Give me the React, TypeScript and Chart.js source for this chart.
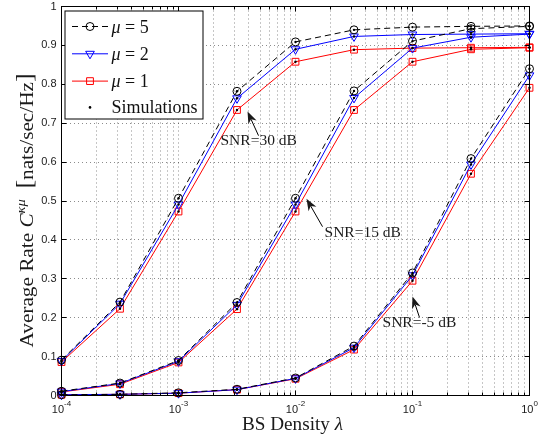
import React, { useEffect, useRef } from 'react';
import { Chart, registerables } from 'chart.js';

Chart.register(...registerables);

// ---------- data ----------
const densities = [1e-4, 3.162e-4, 1e-3, 3.162e-3, 1e-2, 3.162e-2, 1e-1, 3.162e-1, 1];

const snr30Mu5 = [0.091, 0.240, 0.507, 0.782, 0.909, 0.940, 0.947, 0.949, 0.950];
const snr30Mu2 = [0.089, 0.236, 0.491, 0.764, 0.890, 0.923, 0.928, 0.929, 0.930];
const snr30Mu1 = [0.086, 0.223, 0.473, 0.734, 0.858, 0.889, 0.893, 0.894, 0.895];

const snr15Mu5 = [0.011, 0.032, 0.090, 0.239, 0.507, 0.783, 0.911, 0.943, 0.949];
const snr15Mu2 = [0.010, 0.031, 0.088, 0.233, 0.491, 0.765, 0.893, 0.921, 0.929];
const snr15Mu1 = [0.009, 0.029, 0.085, 0.222, 0.473, 0.734, 0.858, 0.890, 0.894];

const snrM5Mu5 = [0.002, 0.003, 0.007, 0.016, 0.045, 0.127, 0.315, 0.609, 0.840];
const snrM5Mu2 = [0.002, 0.003, 0.006, 0.015, 0.044, 0.123, 0.309, 0.594, 0.823];
const snrM5Mu1 = [0.002, 0.003, 0.006, 0.015, 0.043, 0.118, 0.295, 0.570, 0.791];

const mu5Series = [snr30Mu5, snr15Mu5, snrM5Mu5];
const mu2Series = [snr30Mu2, snr15Mu2, snrM5Mu2];
const mu1Series = [snr30Mu1, snr15Mu1, snrM5Mu1];

const yTickValues = [0, 0.1, 0.2, 0.3, 0.4, 0.5, 0.6, 0.7, 0.8, 0.9, 1];
const yTickLabels = ['0', '0.1', '0.2', '0.3', '0.4', '0.5', '0.6', '0.7', '0.8', '0.9', '1'];
const xDecades = [1e-4, 1e-3, 1e-2, 1e-1, 1];
const xDecadeExponents = ['-4', '-3', '-2', '-1', '0'];
const legendMuValues = ['5', '2', '1'];
const simulationLabel = 'Simulations';

// annotations in data coordinates: text position (left, baseline), arrow tail -> tip
const annotationTexts = ['SNR=30 dB', 'SNR=15 dB', 'SNR=-5 dB'];
const annotationTextX = [10 ** -2.641, 10 ** -1.752, 10 ** -1.256];
const annotationTextY = [0.644, 0.407, 0.1756];
const arrowTailX = [10 ** -2.316, 10 ** -1.769, 10 ** -0.94];
const arrowTailY = [0.668, 0.434, 0.2005];
const arrowTipX = [10 ** -2.41, 10 ** -1.906, 10 ** -1.0];
const arrowTipY = [0.73, 0.506, 0.2545];

// grid positions for the log axis (1..9 per decade)
const xGridValues: number[] = [];
for (let e = -4; e < 0; e++) {
  for (let s = 1; s <= 9; s++) xGridValues.push(s * 10 ** e);
}
xGridValues.push(1);

// ---------- helpers ----------
const SERIF = '"Liberation Serif", "Times New Roman", serif';
const SANS = '"Liberation Sans", Arial, sans-serif';

type Piece = { t: string; font: string; dy?: number };

function drawPieces(ctx: CanvasRenderingContext2D, pieces: Piece[], x: number, y: number, align: 'left' | 'center', targetWidth?: number) {
  let total = 0;
  const widths = pieces.map((p) => {
    ctx.font = p.font;
    const w = ctx.measureText(p.t).width;
    total += w;
    return w;
  });
  const sx = targetWidth ? targetWidth / total : 1;
  const start = align === 'center' ? x - (total * sx) / 2 : x;
  ctx.save();
  ctx.translate(start, y);
  ctx.scale(sx, 1);
  ctx.textAlign = 'left';
  ctx.textBaseline = 'alphabetic';
  let cx = 0;
  pieces.forEach((p, i) => {
    ctx.font = p.font;
    ctx.fillText(p.t, cx, p.dy || 0);
    cx += widths[i];
  });
  ctx.restore();
}

function drawArrow(ctx: CanvasRenderingContext2D, x1: number, y1: number, x2: number, y2: number) {
  const ang = Math.atan2(y2 - y1, x2 - x1);
  const c = Math.cos(ang), s = Math.sin(ang);
  const headLen = 12, halfW = 4.5, notch = 0.7;
  ctx.beginPath();
  ctx.moveTo(x1, y1);
  ctx.lineTo(x2 - c * headLen * notch, y2 - s * headLen * notch);
  ctx.stroke();
  ctx.beginPath();
  ctx.moveTo(x2, y2);
  ctx.lineTo(x2 - c * headLen - s * halfW, y2 - s * headLen + c * halfW);
  ctx.lineTo(x2 - c * headLen * notch, y2 - s * headLen * notch);
  ctx.lineTo(x2 - c * headLen + s * halfW, y2 - s * headLen - c * halfW);
  ctx.closePath();
  ctx.fill();
}

function marker(ctx: CanvasRenderingContext2D, kind: string, x: number, y: number, color: string) {
  ctx.save();
  ctx.setLineDash([]);
  ctx.strokeStyle = color;
  ctx.lineWidth = 1;
  ctx.beginPath();
  if (kind === 'circle') {
    ctx.arc(x, y, 4, 0, Math.PI * 2);
  } else if (kind === 'triangle') {
    const r = 5;
    let rad = Math.PI;
    ctx.moveTo(x + Math.sin(rad) * r, y - Math.cos(rad) * r);
    rad += (2 * Math.PI) / 3;
    ctx.lineTo(x + Math.sin(rad) * r, y - Math.cos(rad) * r);
    rad += (2 * Math.PI) / 3;
    ctx.lineTo(x + Math.sin(rad) * r, y - Math.cos(rad) * r);
    ctx.closePath();
  } else if (kind === 'rect') {
    const h = 4.8 * Math.SQRT1_2;
    ctx.rect(x - h, y - h, 2 * h, 2 * h);
  }
  ctx.stroke();
  ctx.restore();
}

const crisp = (v: number) => Math.round(v - 0.5) + 0.5;

const decorPlugin = {
  id: 'decor',
  afterDraw(chart: any) {
    const ctx: CanvasRenderingContext2D = chart.ctx;
    const a = chart.chartArea;
    const xs = chart.scales.x;
    const ys = chart.scales.y;
    ctx.save();
    ctx.setLineDash([]);
    ctx.strokeStyle = '#000';
    ctx.lineWidth = 1;

    // box
    ctx.strokeRect(a.left, a.top, a.right - a.left, a.bottom - a.top);

    // inward ticks
    ctx.beginPath();
    yTickValues.forEach((v) => {
      const py = crisp(ys.getPixelForValue(v));
      ctx.moveTo(a.left, py);
      ctx.lineTo(a.left + 5, py);
      ctx.moveTo(a.right, py);
      ctx.lineTo(a.right - 5, py);
    });
    xGridValues.forEach((v) => {
      const px = crisp(xs.getPixelForValue(v));
      const isDecade = xDecades.some((d) => Math.abs(d - v) / d < 1e-9);
      const len = isDecade ? 5 : 3;
      ctx.moveTo(px, a.bottom);
      ctx.lineTo(px, a.bottom - len);
      ctx.moveTo(px, a.top);
      ctx.lineTo(px, a.top + len);
    });
    ctx.stroke();

    // y tick labels
    ctx.fillStyle = '#1a1a1a';
    ctx.font = '11px ' + SANS;
    ctx.textAlign = 'right';
    ctx.textBaseline = 'middle';
    yTickValues.forEach((v, i) => {
      ctx.fillText(yTickLabels[i], a.left - 5, ys.getPixelForValue(v));
    });

    // x tick labels with superscript
    ctx.textAlign = 'left';
    ctx.textBaseline = 'alphabetic';
    xDecades.forEach((d, i) => {
      const px = xs.getPixelForValue(d);
      ctx.font = '11px ' + SANS;
      const w1 = ctx.measureText('10').width;
      ctx.font = '8px ' + SANS;
      const w2 = ctx.measureText(xDecadeExponents[i]).width;
      const start = px - (w1 + w2) / 2;
      ctx.font = '11px ' + SANS;
      ctx.fillText('10', start, a.bottom + 17.5);
      ctx.font = '8px ' + SANS;
      ctx.fillText(xDecadeExponents[i], start + w1, a.bottom + 10.5);
    });

    // axis titles
    ctx.fillStyle = '#1a1a1a';
    drawPieces(
      ctx,
      [
        { t: 'BS Density ', font: '19px ' + SERIF },
        { t: 'λ', font: 'italic 19px ' + SERIF },
      ],
      (a.left + a.right) / 2 - 3,
      a.bottom + 34.5,
      'center',
      101,
    );
    ctx.save();
    ctx.translate(a.left - 28.5, (a.top + a.bottom) / 2 + 9.5);
    ctx.rotate(-Math.PI / 2);
    drawPieces(
      ctx,
      [
        { t: 'Average Rate ', font: '19px ' + SERIF },
        { t: 'C', font: 'italic 19px ' + SERIF },
        { t: 'κμ', font: 'italic 13px ' + SERIF, dy: -8 },
        { t: '  ', font: '19px ' + SERIF },
        { t: '[', font: '23px ' + SERIF, dy: -1 },
        { t: 'nats/sec/Hz', font: '19px ' + SERIF },
        { t: ']', font: '23px ' + SERIF, dy: -1 },
      ],
      0,
      0,
      'center',
      274,
    );
    ctx.restore();

    // annotations
    ctx.fillStyle = '#1a1a1a';
    ctx.strokeStyle = '#000';
    ctx.lineWidth = 1;
    annotationTexts.forEach((t, i) => {
      drawPieces(
        ctx,
        [{ t, font: '15.5px ' + SERIF }],
        xs.getPixelForValue(annotationTextX[i]),
        ys.getPixelForValue(annotationTextY[i]),
        'left',
      );
      drawArrow(
        ctx,
        xs.getPixelForValue(arrowTailX[i]),
        ys.getPixelForValue(arrowTailY[i]),
        xs.getPixelForValue(arrowTipX[i]),
        ys.getPixelForValue(arrowTipY[i]),
      );
    });

    // legend
    const lx = a.left + 3.5;
    const ly = a.top + 4.5;
    const lw = 138;
    const lh = 108;
    ctx.fillStyle = '#fff';
    ctx.fillRect(lx, ly, lw, lh);
    ctx.strokeStyle = '#000';
    ctx.strokeRect(lx, ly, lw, lh);
    const colors = ['#000000', '#0000ff', '#ff0000'];
    const kinds = ['circle', 'triangle', 'rect'];
    const dashes = [[6, 4], [], []];
    const lineX1 = lx + 7, lineX2 = lx + 43, mx = lx + 25, tx = lx + 46.5;
    legendMuValues.forEach((m, i) => {
      const ry = ly + 15.5 + i * 27.3;
      ctx.save();
      ctx.strokeStyle = colors[i];
      ctx.lineWidth = 1;
      ctx.setLineDash(dashes[i]);
      ctx.beginPath();
      ctx.moveTo(lineX1, ry);
      ctx.lineTo(lineX2, ry);
      ctx.stroke();
      ctx.restore();
      marker(ctx, kinds[i], mx, ry, colors[i]);
      ctx.fillStyle = '#111';
      drawPieces(
        ctx,
        [
          { t: 'μ', font: 'italic 18px ' + SERIF },
          { t: ' = ' + m, font: '18px ' + SERIF },
        ],
        tx,
        ry + 6,
        'left',
      );
    });
    const sy = ly + 15.5 + 3 * 27.3 - 1;
    ctx.fillStyle = '#000';
    ctx.beginPath();
    ctx.arc(mx, sy, 1.3, 0, Math.PI * 2);
    ctx.fill();
    ctx.fillStyle = '#111';
    drawPieces(ctx, [{ t: simulationLabel, font: '18px ' + SERIF }], tx, sy + 6, 'left');

    ctx.restore();
  },
};

function toPoints(values: number[]) {
  return values.map((y, i) => ({ x: densities[i], y }));
}

export default function App() {
  const canvasRef = useRef<HTMLCanvasElement | null>(null);

  useEffect(() => {
    const canvas = canvasRef.current;
    if (!canvas) return;

    const datasets: any[] = [];
    mu1Series.forEach((s) =>
      datasets.push({
        label: 'mu=1',
        data: toPoints(s),
        borderColor: '#ff0000',
        borderWidth: 1,
        pointStyle: 'rect',
        pointRadius: 4.8,
        pointBorderColor: '#ff0000',
        pointBackgroundColor: 'rgba(0,0,0,0)',
        pointBorderWidth: 1,
        tension: 0,
        fill: false,
        clip: false,
        order: 3,
      }),
    );
    mu2Series.forEach((s) =>
      datasets.push({
        label: 'mu=2',
        data: toPoints(s),
        borderColor: '#0000ff',
        borderWidth: 1,
        pointStyle: 'triangle',
        pointRotation: 180,
        pointRadius: 5,
        pointBorderColor: '#0000ff',
        pointBackgroundColor: 'rgba(0,0,0,0)',
        pointBorderWidth: 1,
        tension: 0,
        fill: false,
        clip: false,
        order: 2,
      }),
    );
    mu5Series.forEach((s) =>
      datasets.push({
        label: 'mu=5',
        data: toPoints(s),
        borderColor: '#000000',
        borderWidth: 1,
        borderDash: [6, 4],
        pointStyle: 'circle',
        pointRadius: 4,
        pointBorderColor: '#000000',
        pointBackgroundColor: 'rgba(0,0,0,0)',
        pointBorderWidth: 1,
        tension: 0,
        fill: false,
        clip: false,
        order: 1,
      }),
    );
    const simPoints = [...mu5Series, ...mu2Series, ...mu1Series].flatMap((s) => toPoints(s));
    datasets.push({
      label: simulationLabel,
      data: simPoints,
      showLine: false,
      pointStyle: 'circle',
      pointRadius: 1.2,
      pointBackgroundColor: '#000',
      pointBorderWidth: 0,
      clip: false,
      order: 0,
    });

    const chart = new Chart(canvas, {
      type: 'line',
      data: { datasets },
      options: {
        responsive: false,
        animation: false,
        devicePixelRatio: 1,
        layout: { padding: { left: 61.5, right: 9.5, top: 6.5, bottom: 47.5 } },
        plugins: { legend: { display: false }, tooltip: { enabled: false } },
        events: [],
        scales: {
          x: {
            type: 'logarithmic',
            min: 1e-4,
            max: 1,
            afterBuildTicks: (scale: any) => {
              scale.ticks = xGridValues.map((v) => ({ value: v }));
            },
            ticks: { display: false },
            grid: { color: 'rgba(0,0,0,0.45)', lineWidth: 1, drawTicks: false },
            border: { display: false, dash: [1, 3] },
          },
          y: {
            type: 'linear',
            min: 0,
            max: 1,
            ticks: { display: false, stepSize: 0.1 },
            grid: { color: 'rgba(0,0,0,0.45)', lineWidth: 1, drawTicks: false },
            border: { display: false, dash: [1, 3] },
          },
        },
      } as any,
      plugins: [decorPlugin],
    });

    return () => chart.destroy();
  }, []);

  return (
    <div style={{ position: 'absolute', left: 0, top: 0, width: 539, height: 443, background: '#fff' }}>
      <canvas ref={canvasRef} width={539} height={443} style={{ display: 'block' }} />
    </div>
  );
}
